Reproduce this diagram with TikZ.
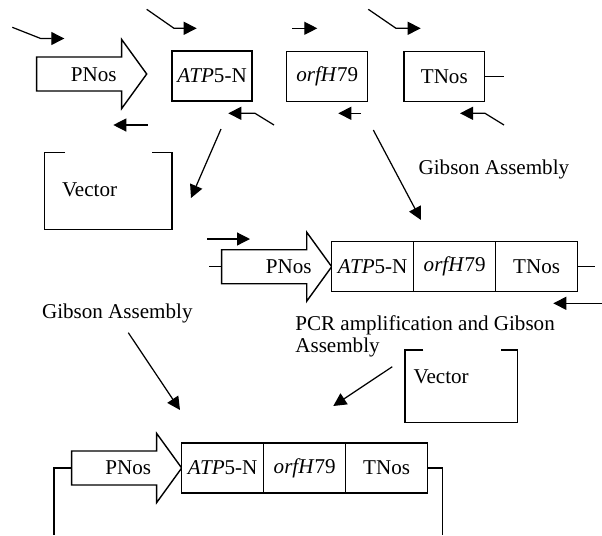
\documentclass[tikz,border=0pt]{standalone}
\usepackage{fontspec}
\setmainfont{Liberation Serif}
\usetikzlibrary{arrows.meta,positioning}

% promoter arrow: #1 name, (#2,#3) middle of its tail
\newcommand{\promoter}[3]{%
  \coordinate (#1-tail) at (#2,#3);
  \draw[part] (#2,#3-17) -- ++(85,0) -- ++(0,-17.5) -- (#2+110,#3)
    -- (#2+85,#3+34.5) -- ++(0,-17.5) -- (#2,#3+17) -- cycle;
  \coordinate (#1-tip) at (#2+110,#3);}

\begin{document}
\begin{tikzpicture}[x=0.02cm,y=-0.02cm,font=\fontsize{12}{14}\selectfont,
 part/.style={draw,line width=0.8pt,fill=white},
 gene/.style={part,minimum width=1.64cm,minimum height=1cm,inner sep=0pt,outer sep=0pt},
 primer/.style={-{Triangle[length=2.6mm,width=2.6mm]},line width=0.7pt},
 flow/.style={-{Triangle[length=2.6mm,width=2.6mm]},line width=0.7pt},
 stub/.style={line width=0.8pt},
 label/.style={anchor=west,inner sep=0pt}]
\useasboundingbox (0,0) rectangle (602,535);

% single parts with their primers
\promoter{pA}{36.7}{74}
\node (pnosA) at (93.8,75) {PNos};
\node[gene,minimum width=1.6cm] (atpA) at (212,76) {\textit{ATP}5-N};
\node[gene,minimum width=1.62cm] (orfA) at (327.2,76.3) {\textit{orfH}79};
\node[gene,minimum width=1.62cm] (tnosA) at (444.3,76.3) {TNos};
\draw[stub] (tnosA.east) -- ++(19.3,0);

\draw[primer] (12.3,27.3) -- (40.7,38.5) -- (64.3,38.5);
\draw[primer] (146.7,9.3) -- (174,28.3) -- (196.7,28.3);
\draw[primer] (292.3,28.3) -- (317.3,28.3);
\draw[primer] (368.3,9.3) -- (396,28.3) -- (420.7,28.3);
\draw[primer] (147.7,125) -- (113.3,125);
\draw[primer] (274,125) -- (255,113.3) -- (228.3,113.3);
\draw[primer] (361,113.3) -- (338.3,113.3);
\draw[primer] (504,125) -- (485,113.3) -- (460,113.3);

% first vector
\draw[stub] (65,152.7) -- (44.3,152.7) -- (44.3,229.3) -- (172,229.3) -- (172,152.7) -- (152.3,152.7);
\node[label] (vecA) at (61.7,189.3) {Vector};

\coordinate (splitA) at (221,129);
\coordinate (vecA-in) at (191,198);
\draw[flow] (splitA) -- (vecA-in);
\coordinate (splitB) at (373.3,130);
\coordinate (fuse-in) at (421,220);
\draw[flow] (splitB) -- (fuse-in);
\node[label] (gibsonA) at (418.3,169) {Gibson Assembly};

% fused cassette
\promoter{pB}{221.7}{266.7}
\node (pnosB) at (288.8,267) {PNos};
\node[gene,anchor=west] (atpB) at (pB-tip) {\textit{ATP}5-N};
\node[gene,right=0pt of atpB] (orfB) {\textit{orfH}79};
\node[gene,right=0pt of orfB] (tnosB) {TNos};
\draw[stub] (pB-tail) -- ++(-12.7,0);
\draw[stub] (tnosB.east) -- ++(17.3,0);
\draw[primer] (207.3,239) -- (250,239);
\draw[primer] (602,303.3) -- (553.3,303.3);

\node[label,anchor=north west,align=left,font=\fontsize{12}{12.5}\selectfont] (pcr) at (295,315.5)
  {PCR amplification and Gibson\\Assembly};
\node[label] (gibsonB) at (41.7,313.3) {Gibson Assembly};

% second vector
\draw[stub] (423.3,350) -- (405,350) -- (405,422.7) -- (517.7,422.7) -- (517.7,350) -- (500.7,350);
\node[label] (vecB) at (413.3,376.7) {Vector};

\coordinate (gibB-out) at (128.3,332.7);
\coordinate (final-inA) at (180,410);
\draw[flow] (gibB-out) -- (final-inA);
\coordinate (vecB-out) at (392.3,366.7);
\coordinate (final-inB) at (333.3,406);
\draw[flow] (vecB-out) -- (final-inB);

% final construct in the vector
\promoter{pC}{71.7}{468}
\node (pnosC) at (128.3,467.5) {PNos};
\node[gene,anchor=west] (atpC) at (pC-tip) {\textit{ATP}5-N};
\node[gene,right=0pt of atpC] (orfC) {\textit{orfH}79};
\node[gene,right=0pt of orfC] (tnosC) {TNos};
\draw[stub] (pC-tail) -- ++(-17.7,0) -- ++(0,67);
\draw[stub] (tnosC.east) -- ++(15,0) -- ++(0,67);
\end{tikzpicture}
\end{document}
